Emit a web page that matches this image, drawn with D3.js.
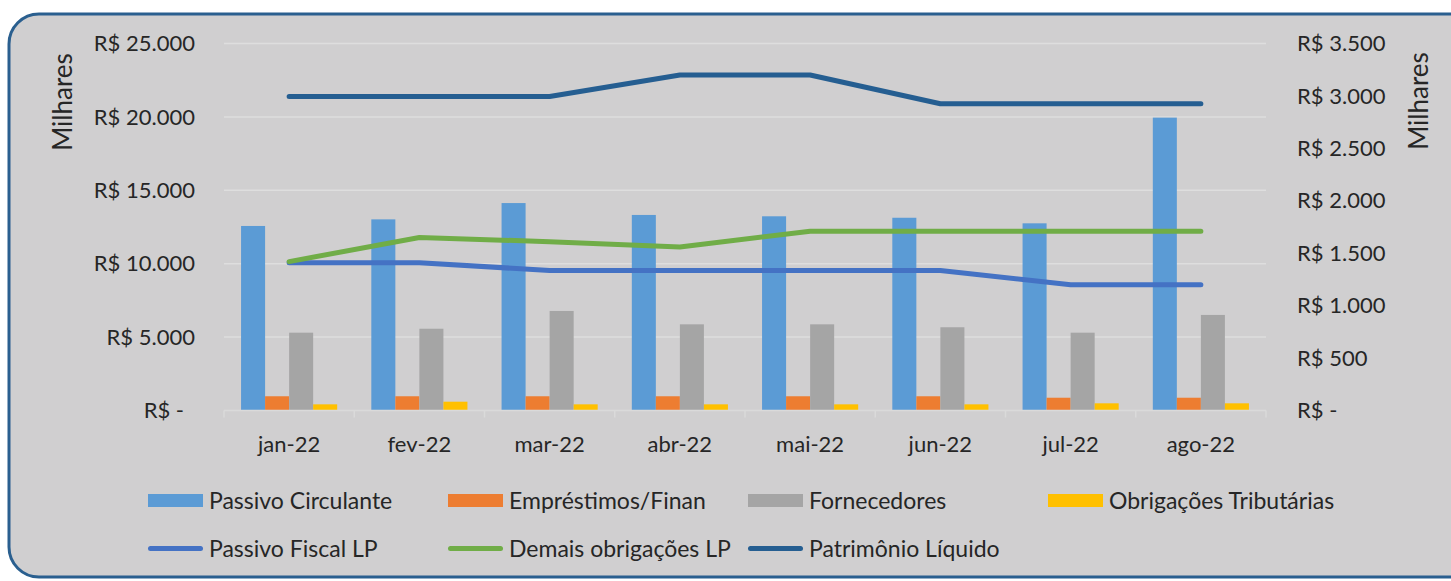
<!DOCTYPE html>
<html>
<head>
<meta charset="utf-8">
<script src="https://cdn.jsdelivr.net/npm/d3@7"></script>
<style>
    body { margin: 0; background: #ffffff; font-family: Lato, "Liberation Sans", sans-serif; }
    svg text { fill: #262626; }
</style>
</head>
<body>
<div id="container"><svg></svg></div>
<script>
let width = 1451;
let height = 581;

// data (bars on left axis, lines on right axis, R$ milhares)
let months = ['jan-22', 'fev-22', 'mar-22', 'abr-22', 'mai-22', 'jun-22', 'jul-22', 'ago-22'];
let bar_names = ['Passivo Circulante', 'Empréstimos/Finan', 'Fornecedores', 'Obrigações Tributárias'];
let passivo_circulante = [12570, 13020, 14130, 13320, 13230, 13130, 12750, 19950];
let emprestimos = [970, 970, 970, 970, 970, 970, 870, 870];
let fornecedores = [5300, 5570, 6780, 5870, 5870, 5670, 5300, 6510];
let obrigacoes_trib = [420, 600, 420, 420, 420, 420, 490, 490];
let line_names = ['Passivo Fiscal LP', 'Demais obrigações LP', 'Patrimônio Líquido'];
let passivo_fiscal = [1410, 1410, 1335, 1335, 1335, 1335, 1200, 1200];
let demais_obrig = [1420, 1650, 1610, 1560, 1710, 1710, 1710, 1710];
let patrimonio = [2995, 2995, 2995, 3200, 3200, 2925, 2925, 2925];
let left_ticks = [0, 5000, 10000, 15000, 20000, 25000];
let right_ticks = [0, 500, 1000, 1500, 2000, 2500, 3000, 3500];

let bar_colors = ['#5b9bd5', '#ed7d31', '#a5a5a5', '#ffc000'];
let line_colors = ['#4472c4', '#70ad47', '#255e91'];

let bar_data = [passivo_circulante, emprestimos, fornecedores, obrigacoes_trib];
let line_data = [passivo_fiscal, demais_obrig, patrimonio];

function draw() {
    let padding = {'left': 224, 'right': width - 1266, 'top': 43.5, 'bottom': height - 410.5};

    let svg = d3.select('#container').select('svg')
        .attr('width', width)
        .attr('height', height);

    // frame
    svg.append('rect')
        .attr('x', 9).attr('y', 14)
        .attr('width', 1470).attr('height', 563)
        .attr('rx', 30).attr('ry', 30)
        .attr('fill', '#d0cfd0')
        .attr('stroke', '#2a5f8f')
        .attr('stroke-width', 3);

    let x0 = d3.scaleBand()
        .domain(months)
        .range([padding.left, width - padding.right]);
    let x1 = d3.scaleBand()
        .domain(bar_names)
        .range([0, x0.bandwidth()])
        .paddingOuter(0.71);
    let yL = d3.scaleLinear().domain([0, 25000]).range([height - padding.bottom, padding.top]);
    let yR = d3.scaleLinear().domain([0, 3500]).range([height - padding.bottom, padding.top]);

    let locale = d3.formatLocale({decimal: ',', thousands: '.', grouping: [3], currency: ['R$ ', '']});
    let fmt = locale.format(',.0f');
    let tickText = v => v === 0 ? 'R$ -' : 'R$ ' + fmt(v);

    // gridlines
    svg.append('g')
        .selectAll('line')
        .data(left_ticks.slice(1))
        .enter()
        .append('line')
        .attr('x1', padding.left).attr('x2', width - padding.right)
        .attr('y1', d => yL(d)).attr('y2', d => yL(d))
        .attr('stroke', '#dedede')
        .attr('stroke-width', 1.5);

    // left axis labels
    svg.append('g')
        .selectAll('text')
        .data(left_ticks)
        .enter()
        .append('text')
        .attr('x', d => d === 0 ? 184 : 195)
        .attr('y', d => yL(d))
        .attr('dy', '0.35em')
        .attr('text-anchor', 'end')
        .style('font-size', '22px')
        .text(tickText);

    // right axis labels
    svg.append('g')
        .selectAll('text')
        .data(right_ticks)
        .enter()
        .append('text')
        .attr('x', 1297)
        .attr('y', d => yR(d))
        .attr('dy', '0.35em')
        .attr('text-anchor', 'start')
        .style('font-size', '22px')
        .text(tickText);

    // axis titles
    svg.append('text')
        .attr('transform', 'translate(72,102) rotate(-90)')
        .attr('text-anchor', 'middle')
        .style('font-size', '26px')
        .text('Milhares');
    svg.append('text')
        .attr('transform', 'translate(1428,101) rotate(-90)')
        .attr('text-anchor', 'middle')
        .style('font-size', '26px')
        .text('Milhares');

    // bars
    let groups = svg.append('g')
        .selectAll('g')
        .data(months)
        .enter()
        .append('g')
        .attr('transform', d => 'translate(' + x0(d) + ',0)');
    groups.selectAll('rect')
        .data((d, i) => bar_names.map((name, k) => ({'name': name, 'k': k, 'value': bar_data[k][i]})))
        .enter()
        .append('rect')
        .attr('x', d => x1(d.name))
        .attr('width', x1.bandwidth())
        .attr('y', d => yL(d.value))
        .attr('height', d => yL(0) - yL(d.value))
        .attr('fill', d => bar_colors[d.k]);

    // x axis
    let xAxis = svg.append('g')
        .attr('transform', 'translate(0,' + yL(0) + ')');
    xAxis.append('line')
        .attr('x1', padding.left).attr('x2', width - padding.right)
        .attr('stroke', '#dadada').attr('stroke-width', 1.5);
    xAxis.selectAll('.tick')
        .data(months.map(m => x0(m)).concat([x0.range()[1]]))
        .enter()
        .append('line')
        .attr('x1', d => d).attr('x2', d => d)
        .attr('y1', 0).attr('y2', 7)
        .attr('stroke', '#dadada').attr('stroke-width', 1.5);
    xAxis.selectAll('text')
        .data(months)
        .enter()
        .append('text')
        .attr('x', d => x0(d) + x0.bandwidth() / 2)
        .attr('y', 34)
        .attr('dy', '0.35em')
        .attr('text-anchor', 'middle')
        .style('font-size', '22px')
        .text(d => d);

    // lines
    let line = d3.line()
        .x((d, i) => x0(months[i]) + x0.bandwidth() / 2)
        .y(d => yR(d));
    svg.append('g')
        .selectAll('path')
        .data(line_data)
        .enter()
        .append('path')
        .attr('d', d => line(d))
        .attr('fill', 'none')
        .attr('stroke', (d, i) => line_colors[i])
        .attr('stroke-width', 5)
        .attr('stroke-linecap', 'round')
        .attr('stroke-linejoin', 'round');

    // legend
    let legend = svg.append('g');
    let items = bar_names.map((n, i) => ({'name': n, 'type': 'bar', 'color': bar_colors[i], 'col': i, 'row': 0}))
        .concat(line_names.map((n, i) => ({'name': n, 'type': 'line', 'color': line_colors[i], 'col': i, 'row': 1})));
    let li = legend.selectAll('g')
        .data(items)
        .enter()
        .append('g')
        .attr('transform', d => 'translate(' + (148 + d.col * 300) + ',' + (500.5 + d.row * 48) + ')');
    li.filter(d => d.type === 'bar')
        .append('rect')
        .attr('x', 0).attr('y', -6.5)
        .attr('width', 55).attr('height', 13)
        .attr('fill', d => d.color);
    li.filter(d => d.type === 'line')
        .append('line')
        .attr('x1', 2.5).attr('x2', 52.5)
        .attr('stroke', d => d.color)
        .attr('stroke-width', 5)
        .attr('stroke-linecap', 'round');
    li.append('text')
        .attr('x', 61)
        .attr('dy', '0.35em')
        .style('font-size', '23px')
        .text(d => d.name);
}

draw();
</script>
</body>
</html>
